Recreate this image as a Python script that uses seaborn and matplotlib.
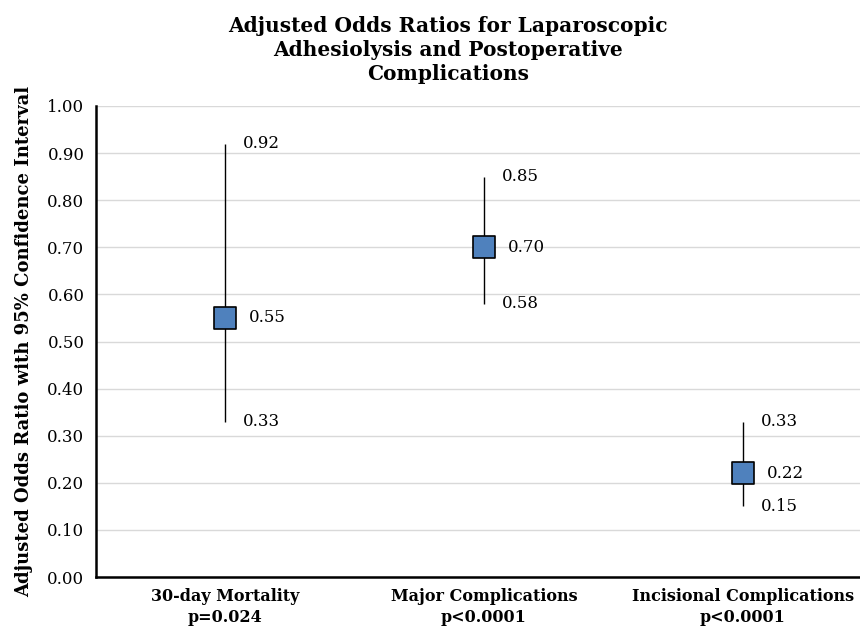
import pandas as pd
import numpy as np
import matplotlib.pyplot as plt
import seaborn as sns

# Data
categories = ["30-day Mortality\np=0.024", "Major Complications\np<0.0001", "Incisional Complications\np<0.0001"]
odds_ratio = [0.55, 0.70, 0.22]
ci_low = [0.33, 0.58, 0.15]
ci_high = [0.92, 0.85, 0.33]

df = pd.DataFrame({"cat": categories, "or": odds_ratio, "lo": ci_low, "hi": ci_high})
df["x"] = np.arange(len(df))

sns.set_style("white")
plt.rcParams["font.family"] = ["DejaVu Serif"]
plt.rcParams["text.color"] = "black"
plt.rcParams["axes.labelcolor"] = "black"
plt.rcParams["xtick.color"] = "black"
plt.rcParams["ytick.color"] = "black"

fig = plt.figure(figsize=(8.6, 6.29), dpi=100)
ax = fig.add_axes([95.5 / 860, 52 / 629, 777 / 860, 471 / 629])

# confidence intervals
ax.vlines(df["x"], df["lo"], df["hi"], color="black", linewidth=1, zorder=2)
# point estimates
sns.scatterplot(data=df, x="x", y="or", marker="s", s=260, color="#4F81BD",
                edgecolor="black", linewidth=1.2, zorder=3, ax=ax, legend=False)

for _, r in df.iterrows():
    ax.annotate(f"{r['hi']:.2f}", (r["x"], r["hi"]), xytext=(18, 0), textcoords="offset pixels",
                va="center", ha="left", fontsize=12)
    ax.annotate(f"{r['or']:.2f}", (r["x"], r["or"]), xytext=(24, 0), textcoords="offset pixels",
                va="center", ha="left", fontsize=12)
    ax.annotate(f"{r['lo']:.2f}", (r["x"], r["lo"]), xytext=(18, 0), textcoords="offset pixels",
                va="center", ha="left", fontsize=12)

ax.set_xlim(-0.5, 2.5)
ax.set_ylim(0, 1.0)
ax.set_yticks(np.arange(0, 1.01, 0.1))
ax.set_yticklabels([f"{v:.2f}" for v in np.arange(0, 1.01, 0.1)], fontsize=12)
ax.set_xticks(df["x"])
ax.set_xticklabels(df["cat"], fontsize=11.5, fontweight="bold", linespacing=1.3)
ax.tick_params(axis="both", length=0, pad=8)
ax.grid(axis="y", color="#d9d9d9", linewidth=1)
ax.set_axisbelow(True)

sns.despine(ax=ax, top=True, right=True)
ax.spines["left"].set_linewidth(1.8)
ax.spines["bottom"].set_linewidth(1.8)
ax.spines["left"].set_color("black")
ax.spines["bottom"].set_color("black")

ax.set_xlabel("")
ax.set_ylabel("Adjusted Odds Ratio with 95% Confidence Interval", fontsize=13,
              fontweight="bold", labelpad=10)
fig.text(448 / 860, 1 - 50 / 629,
         "Adjusted Odds Ratios for Laparoscopic\nAdhesiolysis and Postoperative\nComplications",
         ha="center", va="center", fontsize=14.5, fontweight="bold", linespacing=1.25)

fig.savefig("out.png", dpi=100)
